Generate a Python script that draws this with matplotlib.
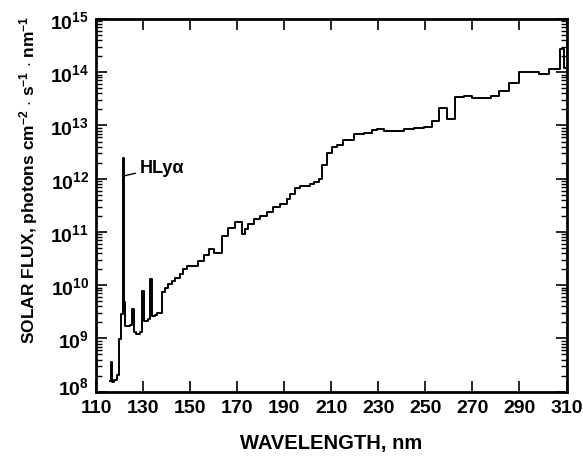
import math
import matplotlib
matplotlib.use("Agg")
import matplotlib.pyplot as plt
import matplotlib.transforms as mtransforms
from matplotlib.ticker import FixedLocator, LogLocator, FuncFormatter, NullFormatter

plt.rcParams["font.family"] = ["Liberation Sans", "DejaVu Sans"]
plt.rcParams["font.weight"] = "bold"
plt.rcParams["mathtext.fontset"] = "custom"
plt.rcParams["mathtext.rm"] = "Liberation Sans:bold"
plt.rcParams["mathtext.bf"] = "Liberation Sans:bold"
plt.rcParams["mathtext.it"] = "Liberation Sans:bold:italic"

# step start wavelengths (nm) and log10 of flux for each step
wavelength = [116.0, 116.3, 116.8, 117.6, 118.8, 119.9, 120.6, 121.3, 121.9,
              122.4, 124.5, 125.2, 126.1, 127.0, 128.7, 129.4, 130.4, 132.0,
              133.0, 133.7, 135.0, 136.0, 138.0, 139.4, 140.8, 142.2, 143.5,
              145.7, 147.0, 148.6, 153.5, 155.7, 158.2, 160.3, 163.5, 166.3,
              169.1, 172.0, 173.4, 174.8, 177.0, 179.8, 182.6, 185.4, 188.3,
              191.1, 192.6, 194.7, 196.8, 201.1, 202.5, 205.0, 206.0, 208.2,
              210.3, 212.4, 215.0, 219.5, 224.0, 227.3, 229.4, 232.3, 235.0,
              240.8, 245.0, 249.3, 252.8, 255.7, 259.2, 262.8, 266.3, 269.9,
              277.7, 281.2, 285.5, 289.9, 298.2, 302.5, 307.1, 309.0, 310.0]
log_flux = [8.20, 8.55, 8.18, 8.22, 8.32, 8.99, 9.46, 12.39, 9.68,
            9.24, 9.26, 9.55, 9.12, 9.08, 9.12, 9.89, 9.33, 9.36,
            10.11, 9.42, 9.45, 9.47, 9.87, 9.94, 10.02, 10.08, 10.13,
            10.21, 10.30, 10.36, 10.46, 10.56, 10.68, 10.60, 10.92, 11.08,
            11.18, 10.96, 11.05, 11.15, 11.24, 11.30, 11.37, 11.46, 11.53,
            11.62, 11.71, 11.82, 11.87, 11.90, 11.93, 12.00, 12.26, 12.49,
            12.60, 12.64, 12.73, 12.84, 12.86, 12.92, 12.94, 12.90, 12.89,
            12.93, 12.95, 12.98, 13.08, 13.32, 13.13, 13.53, 13.56, 13.51,
            13.56, 13.65, 13.80, 14.00, 13.96, 14.07, 14.44, 14.08, 14.08]
flux = [10 ** v for v in log_flux]

x_ticks = [110, 130, 150, 170, 190, 210, 230, 250, 270, 290, 310]
y_ticks = [1e8, 1e9, 1e10, 1e11, 1e12, 1e13, 1e14, 1e15]

fig = plt.figure(figsize=(5.83, 4.60), dpi=100)
ax = fig.add_axes([0.1647, 0.1463, 0.807, 0.8102])

ax.step(wavelength, flux, where="post", color="black", lw=1.4)

ax.set_yscale("log")
ax.set_xlim(110, 310)
ax.set_ylim(1e8, 1e15)

ax.xaxis.set_major_locator(FixedLocator(x_ticks))
ax.yaxis.set_major_locator(FixedLocator(y_ticks))
ax.yaxis.set_minor_locator(LogLocator(base=10, subs=range(2, 10), numticks=20))
ax.yaxis.set_major_formatter(FuncFormatter(lambda v, p: r"$\mathbf{10^{%d}}$" % round(math.log10(v))))
ax.yaxis.set_minor_formatter(NullFormatter())

ax.tick_params(axis="both", which="major", direction="in", length=8, width=1.2,
               top=True, right=True, labelsize=14, pad=5)
ax.tick_params(axis="y", which="minor", direction="in", length=4.5, width=1.0,
               left=True, right=True)
for lbl in ax.get_xticklabels():
    lbl.set_fontweight("bold")
for s in ax.spines.values():
    s.set_linewidth(2)

ax.set_xlabel("WAVELENGTH, nm", fontsize=14.5, fontweight="bold")
ax.xaxis.set_label_coords(0.5, -0.11)
ax.set_ylabel(r"SOLAR FLUX, photons cm$^{-2}$ $\cdot$ s$^{-1}$ $\cdot$ nm$^{-1}$",
              fontsize=12.5, fontweight="bold")
ax.yaxis.set_label_coords(-0.12, 0.57)

# Lyman alpha label
ax.annotate("HLyα", xy=(121.6, 10 ** 12.05), xytext=(128.5, 10 ** 12.22),
            fontsize=13, fontweight="bold", va="center",
            arrowprops=dict(arrowstyle="-", color="black", lw=1.0, shrinkA=1, shrinkB=1))

# nudge the lowest y label up so it clears the 110 label
fig.canvas.draw()
low = ax.yaxis.get_major_ticks()[0].label1
low.set_transform(low.get_transform() + mtransforms.ScaledTranslation(0, 5 / 72, fig.dpi_scale_trans))

fig.savefig("out.png", dpi=100)
